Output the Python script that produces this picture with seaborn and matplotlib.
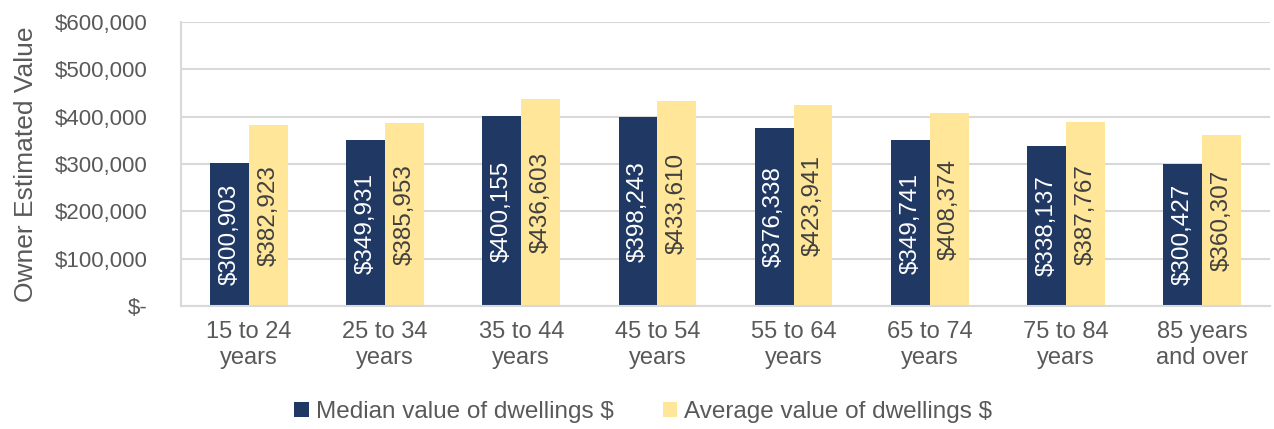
import pandas as pd
import seaborn as sns
import matplotlib.pyplot as plt
from matplotlib.ticker import FuncFormatter

# === Data ===
age_groups = ["15 to 24\nyears", "25 to 34\nyears", "35 to 44\nyears", "45 to 54\nyears",
              "55 to 64\nyears", "65 to 74\nyears", "75 to 84\nyears", "85 years\nand over"]
median_values = [300903, 349931, 400155, 398243, 376338, 349741, 338137, 300427]
average_values = [382923, 385953, 436603, 433610, 423941, 408374, 387767, 360307]
series_names = ["Median value of dwellings $", "Average value of dwellings $"]
colors = ["#203864", "#FFE699"]
label_colors = ["white", "#404040"]

df = pd.DataFrame({
    "Age": age_groups * 2,
    "Value": median_values + average_values,
    "Series": [series_names[0]] * len(age_groups) + [series_names[1]] * len(age_groups),
})

# === Style ===
sns.set_theme(style="white")
plt.rcParams["font.family"] = ["Liberation Sans", "DejaVu Sans"]
text_gray = "#595959"
grid_gray = "#D9D9D9"

fig = plt.figure(figsize=(12.74, 4.29), dpi=100)
ax = fig.add_axes([0.142, 0.287, 0.855, 0.662])

sns.barplot(data=df, x="Age", y="Value", hue="Series", palette=colors,
            width=0.57, saturation=1, linewidth=0, ax=ax, legend=True, zorder=2)

# === Bar labels (centered, rotated) ===
for container, lc in zip(ax.containers, label_colors):
    ax.bar_label(container, labels=[f"${v:,.0f}" for v in container.datavalues],
                 label_type="center", rotation=90, color=lc, fontsize=17.5)

# === Axes ===
ax.set_ylim(0, 600000)
ax.set_yticks(range(0, 600001, 100000))
ax.yaxis.set_major_formatter(FuncFormatter(lambda v, p: "$-" if v == 0 else f"${v:,.0f}"))
ax.set_xlabel("")
ax.set_ylabel("Owner Estimated Value", fontsize=19, color=text_gray, labelpad=12)
ax.tick_params(axis="y", length=0, pad=24, labelsize=16, labelcolor=text_gray)
ax.tick_params(axis="x", length=0, pad=11, labelsize=17, labelcolor=text_gray)
ax.yaxis.grid(True, color=grid_gray, linewidth=1.5, zorder=0)
ax.set_axisbelow(True)
for side in ["top", "right"]:
    ax.spines[side].set_visible(False)
for side in ["left", "bottom"]:
    ax.spines[side].set_color(grid_gray)
    ax.spines[side].set_linewidth(1.5)

# === Legend ===
handles, labels = ax.get_legend_handles_labels()
ax.get_legend().remove()
leg = fig.legend(handles, labels, loc="center", bbox_to_anchor=(0.505, 0.04), ncol=2,
                 frameon=False, fontsize=17.5, handlelength=0.6, handleheight=0.6,
                 handletextpad=0.3, columnspacing=2.0)
for t in leg.get_texts():
    t.set_color(text_gray)

fig.savefig("out.png", dpi=100)
